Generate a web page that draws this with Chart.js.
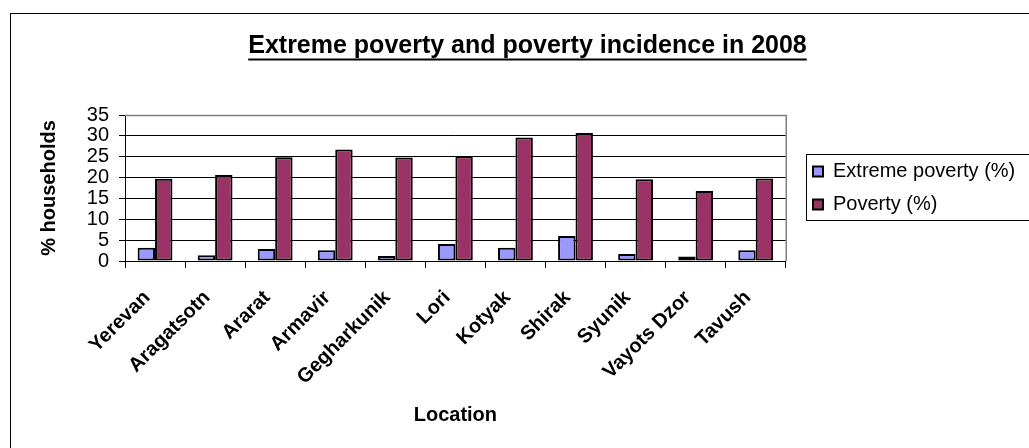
<!DOCTYPE html>
<html><head><meta charset="utf-8">
<script src="https://cdn.jsdelivr.net/npm/chart.js@4/dist/chart.umd.min.js"></script>
<style>html,body{margin:0;padding:0;background:#fff;} #wrap{width:1029px;height:448px;}</style>
</head><body><div id="wrap"><canvas id="c" width="1029" height="448"></canvas></div>
<script>
const categories = ['Yerevan','Aragatsotn','Ararat','Armavir','Gegharkunik','Lori','Kotyak','Shirak','Syunik','Vayots Dzor','Tavush'];
const extremePoverty = [3.2, 1.4, 2.9, 2.6, 1.2, 4.1, 3.2, 6.0, 1.7, 1.1, 2.6];
const poverty = [19.7, 20.6, 24.9, 26.7, 24.8, 25.1, 29.6, 30.7, 19.6, 16.8, 19.8];
const yTicks = [0, 5, 10, 15, 20, 25, 30, 35];
const seriesNames = ['Extreme poverty (%)', 'Poverty (%)'];
const titleText = 'Extreme poverty and poverty incidence in 2008';
const xTitle = 'Location';
const yTitle = '% households';

const FONT = "'Liberation Sans', Arial, sans-serif";

const decor = {
  id: 'decor',
  afterLayout(chart) {
    const lg = chart.legend;
    const shift = 813 - 13 - lg.left;
    lg.left += shift; lg.right += shift;
    if (lg.legendHitBoxes) lg.legendHitBoxes.forEach(h => { h.left += shift; });
  },
  beforeDraw(chart) {
    const ctx = chart.ctx;
    ctx.save();
    ctx.fillStyle = '#fff';
    ctx.fillRect(0, 0, chart.width, chart.height);
    ctx.strokeStyle = '#000';
    ctx.lineWidth = 1;
    ctx.strokeRect(10.5, 13.5, 1100, 500);
    ctx.restore();
  },
  afterDraw(chart) {
    const ctx = chart.ctx;
    const ca = chart.chartArea;
    ctx.save();
    ctx.strokeStyle = '#808080';
    ctx.lineWidth = 1.5;
    ctx.beginPath();
    ctx.moveTo(ca.left, ca.top + 0.5);
    ctx.lineTo(ca.right + 0.5, ca.top + 0.5);
    ctx.lineTo(ca.right + 0.5, ca.bottom);
    ctx.stroke();
    const tb = chart.titleBlock;
    const topt = chart.options.plugins.title;
    ctx.font = 'bold ' + topt.font.size + 'px ' + FONT;
    const w = ctx.measureText(titleText).width;
    const cx = (tb.left + tb.right) / 2;
    const cy = tb.top + topt.padding.top + topt.font.size * 1.2 / 2;
    ctx.strokeStyle = '#000';
    ctx.lineWidth = 2;
    ctx.beginPath();
    ctx.moveTo(cx - w / 2, cy + topt.font.size * 0.5 + 1);
    ctx.lineTo(cx + w / 2, cy + topt.font.size * 0.5 + 1);
    ctx.stroke();
    ctx.lineWidth = 1;
    ctx.strokeRect(806.5, 154.5, 400, 66);
    ctx.restore();
  }
};

new Chart(document.getElementById('c'), {
  type: 'bar',
  data: {
    labels: categories,
    datasets: [
      { label: seriesNames[0], data: extremePoverty, backgroundColor: '#9999FF', borderColor: '#000', borderWidth: 2, borderSkipped: false },
      { label: seriesNames[1], data: poverty, backgroundColor: '#993366', borderColor: '#000', borderWidth: 2, borderSkipped: false }
    ]
  },
  options: {
    responsive: false,
    animation: false,
    devicePixelRatio: 1,
    layout: { padding: { left: 44, right: 18, top: 0, bottom: 0 } },
    datasets: { bar: { categoryPercentage: 0.58, barPercentage: 1.0 } },
    plugins: {
      title: { display: true, text: titleText, color: '#000', font: { family: FONT, size: 25, weight: 'bold' }, padding: { top: 31, bottom: 54 } },
      legend: {
        display: true, position: 'right', fullSize: false, align: 'center',
        labels: { boxWidth: 10, boxHeight: 10, padding: 13, color: '#000', font: { family: FONT, size: 20 } }
      },
      tooltip: { enabled: false }
    },
    scales: {
      x: {
        offset: true,
        grid: { drawOnChartArea: false, drawTicks: true, tickLength: 7, color: '#000' },
        border: { color: '#000', width: 1 },
        ticks: { autoSkip: false, minRotation: 45, maxRotation: 45, color: '#000', padding: 18, labelOffset: -8, font: { family: FONT, size: 20, weight: 'bold' } },
        title: { display: true, text: xTitle, color: '#000', font: { family: FONT, size: 20, weight: 'bold' }, padding: { top: 0, bottom: 21 } },
        afterFit: s => { s.height = 187; }
      },
      y: {
        min: 0, max: 35,
        afterBuildTicks: s => { s.ticks = yTicks.map(v => ({ value: v })); },
        grid: { color: '#000', lineWidth: 1, drawTicks: true, tickLength: 6 },
        border: { color: '#000', width: 1 },
        ticks: { autoSkip: false, color: '#000', padding: 10, font: { family: FONT, size: 20 } },
        title: { display: true, text: yTitle, color: '#000', font: { family: FONT, size: 20, weight: 'bold' }, padding: { top: -7, bottom: 0 } },
        afterFit: s => { s.width = 81; }
      }
    }
  },
  plugins: [decor]
});
</script>
</body></html>
